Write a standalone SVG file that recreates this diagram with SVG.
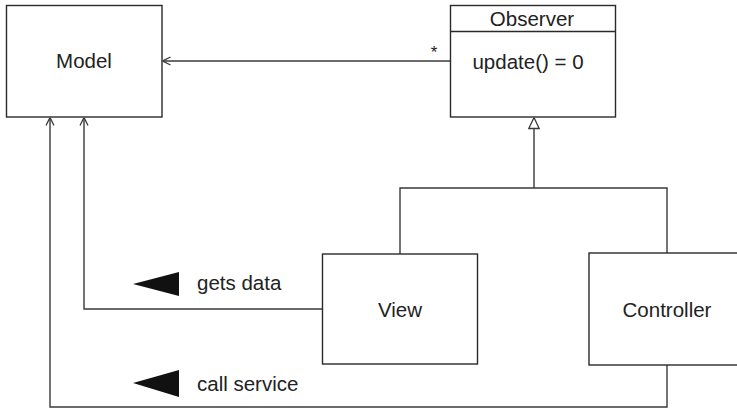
<svg xmlns="http://www.w3.org/2000/svg" width="737" height="408" viewBox="0 0 737 408">
<style>
.box{fill:#fff;stroke:#2a2a2a;stroke-width:1.4}
.ln{fill:none;stroke:#3a3a3a;stroke-width:1.4}
.t{font-family:"Liberation Sans",Arial,sans-serif;font-size:20.5px;fill:#222;text-anchor:middle}
.l{font-family:"Liberation Sans",Arial,sans-serif;font-size:20.5px;fill:#222}
</style>
<defs>
<marker id="open" viewBox="0 0 10 10" refX="10" refY="5" markerWidth="10" markerHeight="10" markerUnits="userSpaceOnUse" orient="auto">
<path d="M2,1 L10,5 L2,9" fill="none" stroke="#3a3a3a" stroke-width="1.3"/>
</marker>
<marker id="tri" viewBox="0 0 12 12" refX="12" refY="6" markerWidth="12" markerHeight="12" markerUnits="userSpaceOnUse" orient="auto">
<path d="M1,0.8 L12,6 L1,11.2 Z" fill="#fff" stroke="#3a3a3a" stroke-width="1.3"/>
</marker>
</defs>
<g id="connectors">
<path class="ln" d="M450,61 H162.5" marker-end="url(#open)"/>
<path class="ln" d="M534,188 V117.5" marker-end="url(#tri)"/>
<path class="ln" d="M400,254 V188 H667 V253"/>
<path class="ln" d="M322,309 H84 V117.5" marker-end="url(#open)"/>
<path class="ln" d="M667,365 V407 H50 V117.5" marker-end="url(#open)"/>
</g>
<g id="model"><rect class="box" x="6.5" y="5.5" width="155.5" height="111.5"/><text class="t" x="84" y="68">Model</text></g>
<g id="observer"><rect class="box" x="450.5" y="5.5" width="165" height="111.5"/><line class="box" x1="450.5" y1="31.5" x2="615.5" y2="31.5"/><text class="t" x="532" y="25.5">Observer</text><text class="t" x="528" y="69">update() = 0</text></g>
<g id="view"><rect class="box" x="322.5" y="254" width="155" height="110"/><text class="t" x="400" y="317">View</text></g>
<g id="controller"><rect class="box" x="589" y="253" width="155" height="112"/><text class="t" x="667" y="317">Controller</text></g>
<g id="labels">
<text class="l" x="434" y="58" style="font-size:17px" text-anchor="middle">*</text>
<path d="M133,284 L179,272 L179,296 Z" fill="#111"/>
<text class="l" x="197" y="290">gets data</text>
<path d="M133,383 L179,370 L179,397 Z" fill="#111"/>
<text class="l" x="197" y="391">call service</text>
</g>
</svg>
